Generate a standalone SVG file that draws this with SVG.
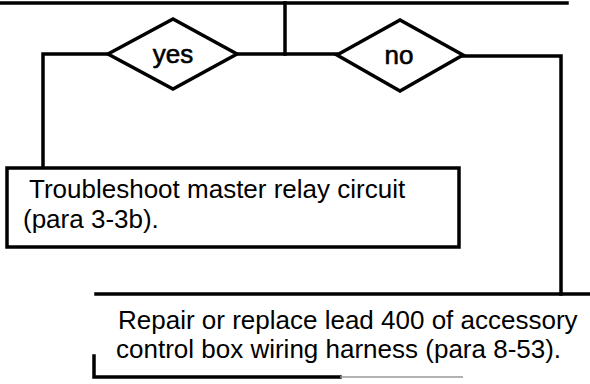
<svg xmlns="http://www.w3.org/2000/svg" width="590" height="384" viewBox="0 0 590 384">
<style>
.ln{fill:none;stroke:#000;stroke-width:3.5;stroke-linecap:square;stroke-linejoin:miter}
.dm{fill:#fff;stroke:#000;stroke-width:3.5;stroke-linejoin:miter}
.bx{fill:#fff;stroke:#000;stroke-width:3.5}
.t{font-family:"Liberation Sans",Arial,sans-serif;font-size:26px;fill:#000}
.dt{stroke:#000;stroke-width:0.6}
</style>
<rect width="590" height="384" fill="#fff"/>
<g id="connectors">
<path class="ln" d="M0,3 H567" stroke-width="4.5"/>
<path class="ln" d="M285,3 V54"/>
<path class="ln" d="M237,54 H337"/>
<path class="ln" d="M108,54 H43 V167"/>
<path class="ln" d="M463,56 H561 V294"/>
<path class="ln" d="M96,294 H590" stroke-width="4"/>
</g>
<g id="yes">
<polygon class="dm" points="108,54 173,19 237,54 173,89"/>
<text class="t dt" x="173" y="63" text-anchor="middle">yes</text>
</g>
<g id="no">
<polygon class="dm" points="337,55 400,20 463,55 400,91"/>
<text class="t dt" x="399" y="64" text-anchor="middle">no</text>
</g>
<g id="box1">
<rect class="bx" x="7" y="168" width="452" height="79"/>
<text class="t" x="29" y="198">Troubleshoot master relay circuit</text>
<text class="t" x="23" y="228">(para 3-3b).</text>
</g>
<g id="box2">
<path class="ln" d="M94,356 V377 H340"/>
<path d="M340,377 H463" fill="none" stroke="#999" stroke-width="1.5"/>
<text class="t" x="118" y="329">Repair or replace lead 400 of accessory</text>
<text class="t" x="116" y="358">control box wiring harness (para 8-53).</text>
</g>
</svg>
